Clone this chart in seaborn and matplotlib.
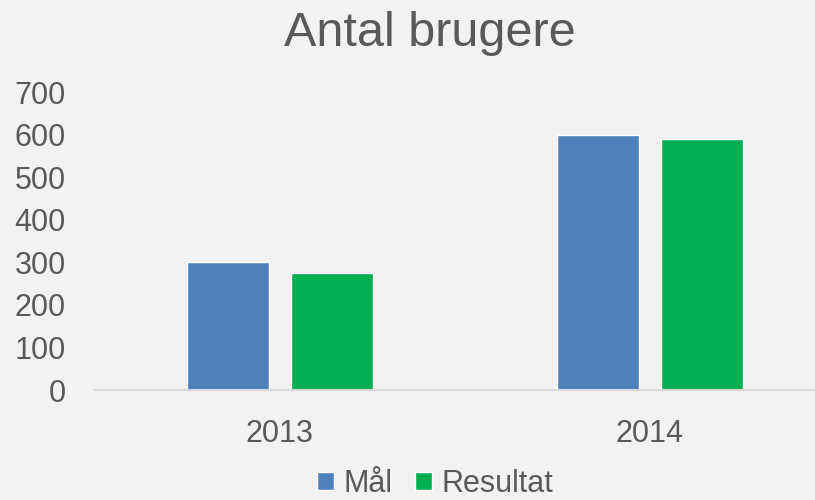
import pandas as pd
import matplotlib
matplotlib.use("Agg")
import matplotlib.pyplot as plt
import seaborn as sns

# data
years = ["2013", "2014"]
maal = [300, 600]
resultat = [276, 590]
series_names = ["Mål", "Resultat"]
colors = ["#4f81bd", "#00b050"]

df = pd.DataFrame({
    "year": years * 2,
    "value": maal + resultat,
    "serie": [series_names[0]] * len(years) + [series_names[1]] * len(years),
})

sns.set_theme(style="white")
plt.rcParams["font.family"] = ["Liberation Sans", "DejaVu Sans"]
text_color = "#595959"
bg = "#f2f2f2"

fig = plt.figure(figsize=(8.15, 5), dpi=100, facecolor=bg)
ax = fig.add_axes([95 / 815, 0.22, 720 / 815, 0.596])
ax.set_facecolor(bg)

sns.barplot(data=df, x="year", y="value", hue="serie", palette=colors,
            width=0.562, gap=0.21, ax=ax, saturation=1)

ax.set_ylim(0, 700)
ax.set_xlim(-0.5, 1.446)
ax.set_yticks(range(0, 701, 100))
ax.set_xlabel("")
ax.set_ylabel("")
ax.tick_params(axis="y", length=0, pad=21, labelsize=22, labelcolor=text_color)
ax.tick_params(axis="x", length=0, pad=21, labelsize=22, labelcolor=text_color)

for side in ["top", "right", "left"]:
    ax.spines[side].set_visible(False)
ax.spines["bottom"].set_color("#d9d9d9")
ax.spines["bottom"].set_linewidth(1.5)

fig.suptitle("Antal brugere", x=0.527, y=0.978, fontsize=35, color=text_color)

# legend sits at the very bottom edge, as in the reference
ax.get_legend().remove()
handles, labels = ax.get_legend_handles_labels()
fig.legend(handles, labels, loc="lower center", bbox_to_anchor=(0.534, -0.053),
           ncol=2, frameon=False, fontsize=22, labelcolor=text_color,
           handlelength=0.55, handleheight=0.55, handletextpad=0.3,
           columnspacing=0.75)

fig.savefig("out.png", dpi=100, facecolor=bg)
